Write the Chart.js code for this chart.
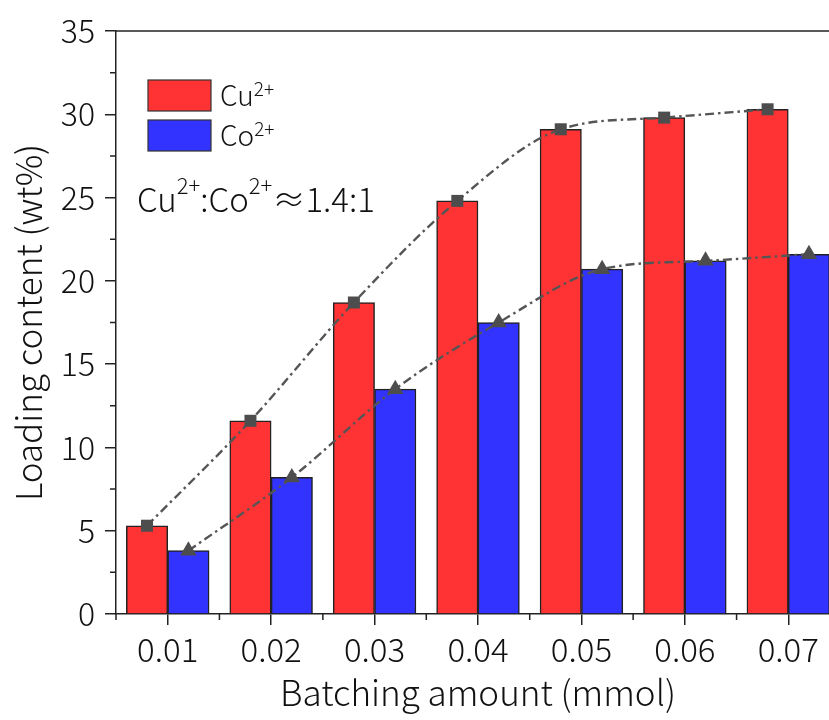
<!DOCTYPE html>
<html lang="en">
<head>
<meta charset="UTF-8">
<title>Loading content</title>
<style>
  html, body { margin: 0; padding: 0; overflow: hidden; background: #fff; }
  #wrap { width: 850px; height: 720px; }
</style>
</head>
<body>
<div id="wrap"><canvas id="barChart" width="850" height="720"></canvas></div>
<script src="https://cdn.jsdelivr.net/npm/chart.js@4.4.1/dist/chart.umd.min.js"></script>
<script>
// data
const batching = ["0.01", "0.02", "0.03", "0.04", "0.05", "0.06", "0.07"];
const cuLoading = [5.3, 11.6, 18.7, 24.8, 29.1, 29.8, 30.3];
const coLoading = [3.8, 8.2, 13.5, 17.5, 20.7, 21.2, 21.6];
const yTicks = [0, 5, 10, 15, 20, 25, 30, 35];
const legendNames = [["Cu", "2+"], ["Co", "2+"]];
const ratioNote = [["Cu", false], ["2+", true], [":Co", false], ["2+", true], ["\u22481.4:1", false]];

const FONT = "'Noto Sans CJK SC', 'Noto Sans', sans-serif";
const axisColor = "#222";
const textColor = "#111";
const cuColor = "#ff3333";
const coColor = "#3333ff";
const pairShift = 0.2; // each bar sits 0.2 of a category off the centre

// text with optional superscript parts
function drawRich(c, x, y, parts, size, supScale, raise) {
    c.textBaseline = "alphabetic";
    c.textAlign = "left";
    for (const [txt, sup] of parts) {
        c.font = sup ? `300 ${Math.round(size * supScale)}px ${FONT}` : `300 ${size}px ${FONT}`;
        c.fillText(txt, x, sup ? y - raise : y);
        x += c.measureText(txt).width;
    }
    return x;
}

const extrasPlugin = {
    id: "extras",
    afterDraw(chart) {
        const c = chart.ctx;
        const area = chart.chartArea;
        const xs = chart.scales.x;
        const ys = chart.scales.y;
        c.save();
        c.strokeStyle = axisColor;
        c.lineWidth = 1.5;
        // top frame line
        c.beginPath();
        c.moveTo(area.left, area.top);
        c.lineTo(area.right, area.top);
        c.stroke();
        // minor ticks on y, halfway between labelled ticks
        c.beginPath();
        for (let i = 0; i < yTicks.length - 1; i++) {
            const py = ys.getPixelForValue((yTicks[i] + yTicks[i + 1]) / 2);
            c.moveTo(area.left - 6, py);
            c.lineTo(area.left, py);
        }
        // minor ticks on x, at category boundaries
        for (let i = 0; i <= batching.length; i++) {
            const px = xs.getPixelForValue(i - 0.5);
            c.moveTo(px, area.bottom);
            c.lineTo(px, area.bottom + 6);
        }
        c.stroke();

        // legend
        const lx = area.left + 32;
        let ly = area.top + 49;
        const colors = [cuColor, coColor];
        legendNames.forEach((n, i) => {
            c.fillStyle = colors[i];
            c.fillRect(lx, ly, 63, 31);
            c.strokeStyle = "#333";
            c.lineWidth = 1.2;
            c.strokeRect(lx, ly, 63, 31);
            c.fillStyle = textColor;
            drawRich(c, lx + 72, ly + 26, [[n[0], false], [n[1], true]], 28, 0.68, 10);
            ly += 40;
        });

        // ratio note
        c.fillStyle = textColor;
        drawRich(c, area.left + 21, area.top + 181, ratioNote, 33, 0.66, 18);
        c.restore();
    }
};

const barStyle = {
    borderColor: "#222",
    borderWidth: 1.5,
    grouped: false,
    categoryPercentage: 1,
    barPercentage: 1,
    order: 2
};

const lineStyle = {
    type: "line",
    borderColor: "#555",
    borderWidth: 2.4,
    borderDash: [9, 4, 2.5, 4],
    cubicInterpolationMode: "monotone",
    pointBackgroundColor: "#4d4d4d",
    pointBorderColor: "#4d4d4d",
    pointBorderWidth: 0,
    fill: false,
    order: 1
};

const cuPoints = cuLoading.map((v, i) => ({ x: i - pairShift, y: v }));
const coPoints = coLoading.map((v, i) => ({ x: i + pairShift, y: v }));

const ctx = document.getElementById("barChart").getContext("2d");

new Chart(ctx, {
    type: "bar",
    data: {
        datasets: [
            Object.assign({ label: "Cu2+", data: cuPoints, backgroundColor: cuColor }, barStyle),
            Object.assign({ label: "Co2+", data: coPoints, backgroundColor: coColor }, barStyle),
            Object.assign({ label: "Cu2+ trend", data: cuPoints, pointStyle: "rect", pointRadius: 8.5 }, lineStyle),
            Object.assign({ label: "Co2+ trend", data: coPoints, pointStyle: "triangle", pointRadius: 9.5 }, lineStyle)
        ]
    },
    options: {
        responsive: false,
        animation: false,
        layout: { padding: { top: 31, right: 10, left: 0, bottom: 0 } },
        plugins: {
            legend: { display: false },
            tooltip: { enabled: false }
        },
        scales: {
            x: {
                type: "linear",
                min: -0.5,
                max: batching.length - 0.5,
                offset: false,
                afterBuildTicks: s => { s.ticks = batching.map((b, i) => ({ value: i })); },
                grid: { offset: false, drawOnChartArea: false, tickLength: 11, color: axisColor, lineWidth: 1.5 },
                border: { color: axisColor, width: 1.5 },
                ticks: {
                    color: textColor,
                    font: { family: FONT, size: 33, weight: 300 },
                    padding: 5,
                    maxRotation: 0,
                    autoSkip: false,
                    callback: v => batching[Math.round(v)]
                },
                title: {
                    display: true,
                    text: "Batching amount (mmol)",
                    color: textColor,
                    font: { family: FONT, size: 35, weight: 300 },
                    padding: { top: 0, bottom: 6 }
                },
                afterFit: s => { s.height = 106; }
            },
            y: {
                min: 0,
                max: 35,
                afterBuildTicks: s => { s.ticks = yTicks.map(v => ({ value: v })); },
                grid: { drawOnChartArea: false, tickLength: 11, color: axisColor, lineWidth: 1.5 },
                border: { color: axisColor, width: 1.5 },
                ticks: { color: textColor, font: { family: FONT, size: 32, weight: 300 }, padding: 10 },
                title: {
                    display: true,
                    text: "Loading content (wt%)",
                    color: textColor,
                    font: { family: FONT, size: 35, weight: 300 },
                    padding: { top: 8, bottom: 0 }
                },
                afterFit: s => { s.width = 116; }
            }
        }
    },
    plugins: [extrasPlugin]
});
</script>
</body>
</html>
